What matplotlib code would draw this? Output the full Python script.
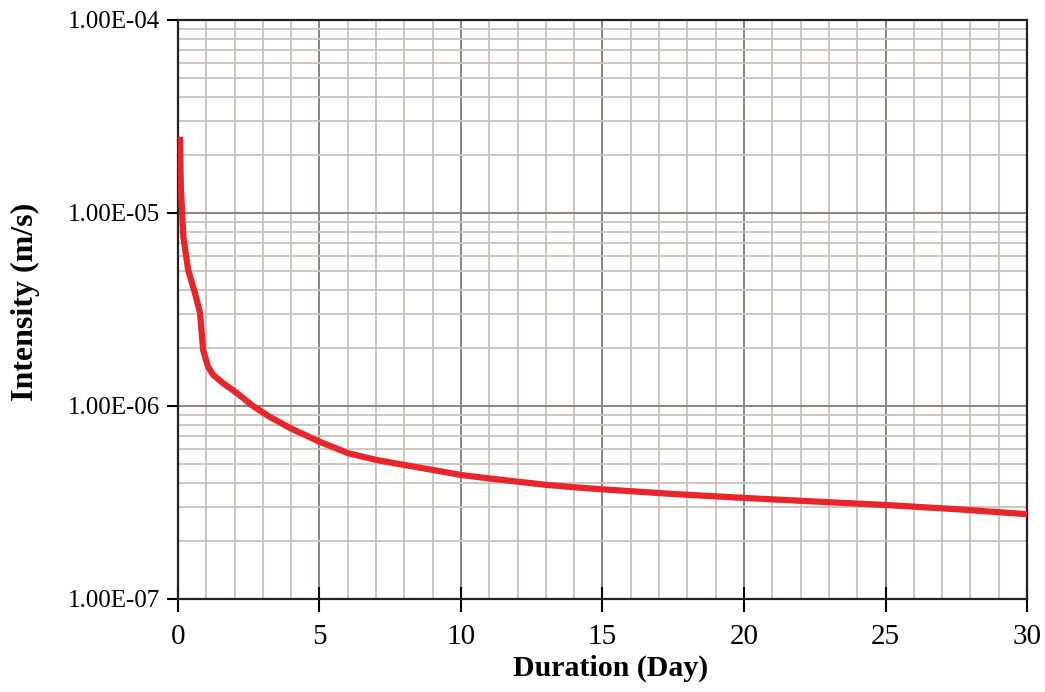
import numpy as np
import matplotlib
matplotlib.use("Agg")
from matplotlib import pyplot as plt
from matplotlib.ticker import FuncFormatter, MultipleLocator, LogLocator

# values
duration = [0.07, 0.1, 0.19, 0.36, 0.6, 0.78, 0.89, 1.06, 1.24, 1.6, 2.07,
            2.65, 3.25, 3.96, 5.0, 6.02, 7.02, 8.02, 9.02, 10.0, 11.03,
            12.03, 13.03, 14.03, 15.0, 17.5, 20.0, 22.5, 25.0, 27.5, 30.0]
intensity = [2.48e-5, 1.37e-5, 7.53e-6, 5.07e-6, 3.85e-6, 3.03e-6, 1.95e-6,
             1.6e-6, 1.45e-6, 1.31e-6, 1.17e-6, 1.0e-6, 8.77e-7, 7.69e-7,
             6.53e-7, 5.69e-7, 5.25e-7, 4.94e-7, 4.66e-7, 4.39e-7, 4.21e-7,
             4.05e-7, 3.9e-7, 3.79e-7, 3.7e-7, 3.5e-7, 3.34e-7, 3.2e-7,
             3.07e-7, 2.92e-7, 2.75e-7]

x_ticks = [0, 5, 10, 15, 20, 25, 30]


def main():
    plt.rcParams["font.family"] = ["Liberation Serif", "DejaVu Serif"]
    fig = plt.figure(figsize=(10.45, 6.92), dpi=100)
    ax = fig.add_axes([0.1703, 0.1344, 0.8125, 0.8367])

    ax.set_yscale("log")
    ax.set_xlim(0, 30)
    ax.set_ylim(1e-7, 1e-4)

    # grid
    ax.xaxis.set_major_locator(MultipleLocator(5))
    ax.xaxis.set_minor_locator(MultipleLocator(1))
    ax.yaxis.set_major_locator(LogLocator(base=10))
    ax.yaxis.set_minor_locator(LogLocator(base=10, subs=np.arange(2, 10)))
    ax.grid(which="minor", color="#c9c1bc", linewidth=1.3)
    ax.grid(which="major", color="#8a8380", linewidth=1.4)
    ax.set_axisbelow(True)

    ax.plot(duration, intensity, color="#e8262a", linewidth=4.5,
            solid_capstyle="butt", solid_joinstyle="round", zorder=3)

    ax.yaxis.set_major_formatter(FuncFormatter(lambda v, p: f"{v:.2E}"))
    ax.set_xticks(x_ticks)
    ax.tick_params(axis="x", which="major", direction="inout", length=18,
                   width=1.5, labelsize=21, pad=9)
    ax.tick_params(axis="y", which="major", direction="out", length=8,
                   width=1.5, labelsize=18, pad=5)
    ax.tick_params(which="minor", length=0)

    for side in ["left", "bottom", "top", "right"]:
        ax.spines[side].set_linewidth(1.6)
        ax.spines[side].set_color("#222222")

    ax.set_xlabel("Duration (Day)", fontsize=21.5, fontweight="bold")
    ax.set_ylabel("Intensity (m/s)", fontsize=23, fontweight="bold")
    ax.xaxis.set_label_coords(0.509, -0.097)
    ax.yaxis.set_label_coords(-0.163, 0.513)

    fig.savefig("out.png")


if __name__ == "__main__":
    main()
